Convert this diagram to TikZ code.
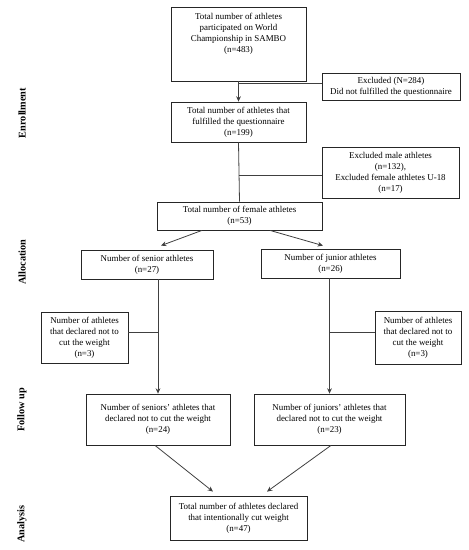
\documentclass[tikz,border=0pt]{standalone}
\usepackage{fontspec}
\setmainfont{Liberation Serif}
\usetikzlibrary{arrows.meta,calc}

\begin{document}
\begin{tikzpicture}[x=0.75pt,y=0.75pt,yscale=-1,xscale=1,
  box/.style={draw=black!85, line width=0.6pt, inner sep=1pt, align=center,
    font=\fontsize{6.7}{8.3}\selectfont},
  txt/.style={inner sep=0pt, align=center, font=\fontsize{6.7}{8.3}\selectfont},
  line/.style={draw=black!75, line width=0.6pt},
  arr/.style={line, -{Stealth[length=4pt,width=3.6pt]}},
  phase/.style={rotate=90, font=\fontsize{7.7}{9}\selectfont\bfseries, inner sep=0pt}]
\useasboundingbox (0,0) rectangle (468,550);

% Enrollment
\node [box, minimum width=135*0.75pt, minimum height=74*0.75pt] (b1) at (238.5,44) {};
\node [txt, anchor=north] (b1txt) at ($(b1.north)+(0,6)$) {Total number of athletes\\participated on World\\Championship in SAMBO\\(n=483)};
\node [box, minimum width=138*0.75pt, minimum height=27*0.75pt] (ex1) at (391,86.5) {Excluded (N=284)\\Did not fulfilled the questionnaire};
\node [box, minimum width=135*0.75pt, minimum height=40*0.75pt] (b2) at (238.5,122) {Total number of athletes that\\fulfilled the questionnaire\\(n=199)};
\node [box, minimum width=137*0.75pt, minimum height=51*0.75pt] (ex2) at (390.5,172.5) {Excluded male athletes\\(n=132),\\Excluded female athletes U-18\\(n=17)};
\node [box, minimum width=165*0.75pt, minimum height=28*0.75pt] (b3) at (239.5,216) {Total number of female athletes\\(n=53)};

% Allocation
\node [box, minimum width=132*0.75pt, minimum height=29*0.75pt] (sen) at (147,264.5) {Number of senior athletes\\(n=27)};
\node [box, minimum width=139*0.75pt, minimum height=29*0.75pt] (jun) at (330.5,263.5) {Number of junior athletes\\(n=26)};
\node [box, minimum width=87*0.75pt, minimum height=51*0.75pt] (exs) at (84.5,337.5) {Number of athletes\\that declared not to\\cut the weight\\(n=3)};
\node [box, minimum width=86*0.75pt, minimum height=53*0.75pt] (exj) at (418,337.5) {Number of athletes\\that declared not to\\cut the weight\\(n=3)};

% Follow up
\node [box, minimum width=144*0.75pt, minimum height=51*0.75pt] (fs) at (158,419.5) {Number of seniors' athletes that\\declared not to cut the weight\\(n=24)};
\node [box, minimum width=151*0.75pt, minimum height=51*0.75pt] (fj) at (329.5,419.5) {Number of juniors' athletes that\\declared not to cut the weight\\(n=23)};

% Analysis
\node [box, minimum width=137*0.75pt, minimum height=44*0.75pt] (fin) at (238.5,518) {Total number of athletes declared\\that intentionally cut weight\\(n=47)};

% Phase labels
\node [phase] (lenr) at (22,113) {Enrollment};
\node [phase] (lall) at (22,262) {Allocation};
\node [phase] (lfol) at (22,410) {Follow up};
\node [phase] (lana) at (22,524) {Analysis};

% Connectors
\draw [arr] (b1.south) -- (b2.north);
\coordinate (j1) at (b1.south |- {(0,83)});
\draw [line] (j1) -- (j1 -| ex1.west);

\draw [line] (b2.south) -- (b3.north);
\coordinate (j2) at (b2.south |- {(0,175)});
\draw [line] (j2) -- (j2 -| ex2.west);

\draw [arr] ($(b3.south)+(-37.5,0)$) -- ($(sen.north)+(14,-4)$);
\draw [arr] ($(b3.south)+(30.5,0)$) -- ($(jun.north)+(-7.5,-3)$);

\draw [arr] (fs.north |- sen.south) -- (fs.north);
\coordinate (j3) at (fs.north |- {(0,332)});
\draw [line] (j3) -- (j3 -| exs.east);

\draw [arr] (fj.north |- jun.south) -- (fj.north);
\coordinate (j4) at (fj.north |- {(0,332)});
\draw [line] (j4) -- (j4 -| exj.west);

\draw [arr] ($(fs.south)+(-3,0)$) -- ($(fin.north)+(-25.5,-4)$);
\draw [arr] ($(fj.south)+(1.5,0)$) -- ($(fin.north)+(28.5,-4)$);

\end{tikzpicture}
\end{document}
